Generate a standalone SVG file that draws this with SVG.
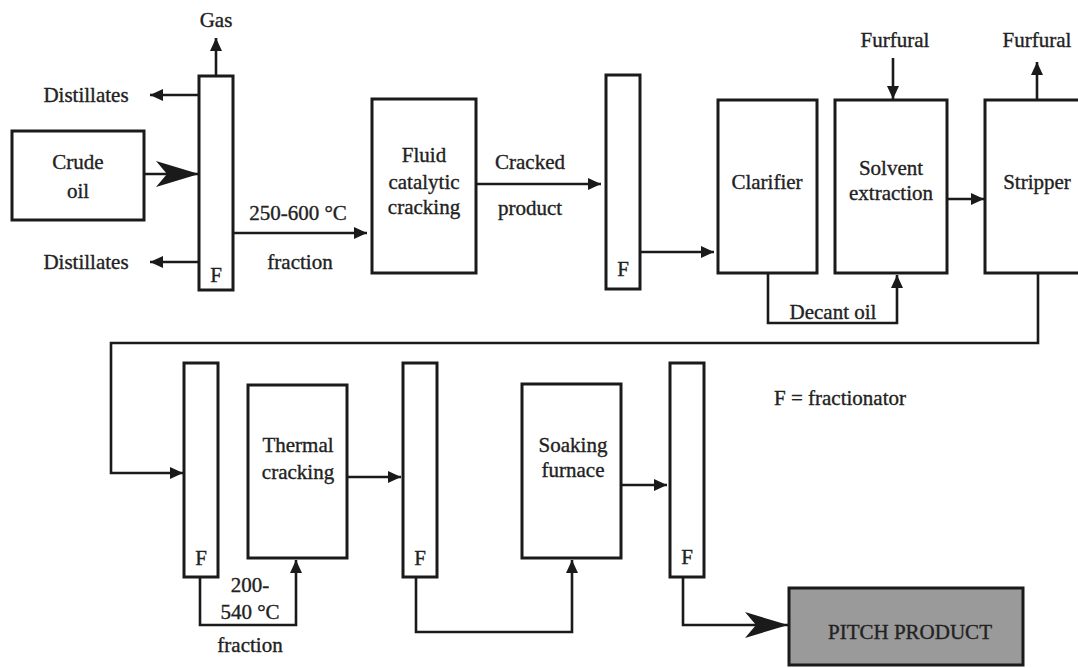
<svg xmlns="http://www.w3.org/2000/svg" width="1078" height="668" viewBox="0 0 1078 668">
<defs>
<style>
.box{fill:#fff;stroke:#1a1a1a;stroke-width:3}
.ln{fill:none;stroke:#1a1a1a;stroke-width:2.6}
.t{font-family:"Liberation Serif","Times New Roman",serif;font-size:21px;fill:#222;stroke:#222;stroke-width:0.35;text-anchor:middle}
</style>
<marker id="a" markerUnits="userSpaceOnUse" markerWidth="14" markerHeight="12" refX="13" refY="6" orient="auto">
<path d="M0,0 L13,6 L0,12 z" fill="#1a1a1a"/>
</marker>
<marker id="big" markerUnits="userSpaceOnUse" markerWidth="44" markerHeight="28" refX="43" refY="14" orient="auto">
<path d="M0,1 L43,14 L0,27 L11,14 z" fill="#1a1a1a"/>
</marker>
</defs>
<rect width="1078" height="668" fill="#fff"/>
<g id="connectors">
<path class="ln" d="M216,76 V38" marker-end="url(#a)"/>
<path class="ln" d="M199,95 H150" marker-end="url(#a)"/>
<path class="ln" d="M199,262 H150" marker-end="url(#a)"/>
<path class="ln" d="M144,174 H199" marker-end="url(#big)"/>
<path class="ln" d="M233,233 H367" marker-end="url(#a)"/>
<path class="ln" d="M476,184 H601" marker-end="url(#a)"/>
<path class="ln" d="M640,252 H714" marker-end="url(#a)"/>
<path class="ln" d="M893,58 V99" marker-end="url(#a)"/>
<path class="ln" d="M1037,100 V62" marker-end="url(#a)"/>
<path class="ln" d="M947,199 H984" marker-end="url(#a)"/>
<path class="ln" d="M768,273 V323 H897 V275" marker-end="url(#a)"/>
<path class="ln" d="M1038,273 V343 H111 V473 H183" marker-end="url(#a)"/>
<path class="ln" d="M347,477 H401" marker-end="url(#a)"/>
<path class="ln" d="M200,577 V625 H296 V560" marker-end="url(#a)"/>
<path class="ln" d="M416,577 V632 H572 V560" marker-end="url(#a)"/>
<path class="ln" d="M621,485 H667" marker-end="url(#a)"/>
<path class="ln" d="M683,577 V625 H788" marker-end="url(#big)"/>
</g>
<g id="crude-oil"><rect class="box" x="12" y="131" width="132" height="89"/><text class="t" x="78" y="169">Crude</text><text class="t" x="78" y="198">oil</text></g>
<g id="fractionator-1"><rect class="box" x="199" y="76" width="34" height="214"/><text class="t" x="216" y="282">F</text></g>
<g id="fcc"><rect class="box" x="372" y="99" width="104" height="174"/><text class="t" x="424" y="162">Fluid</text><text class="t" x="424" y="189">catalytic</text><text class="t" x="424" y="214">cracking</text></g>
<g id="fractionator-2"><rect class="box" x="606" y="75" width="34" height="214"/><text class="t" x="623" y="276">F</text></g>
<g id="clarifier"><rect class="box" x="718" y="100" width="99" height="173"/><text class="t" x="767" y="189">Clarifier</text></g>
<g id="solvent-extraction"><rect class="box" x="835" y="100" width="112" height="173"/><text class="t" x="891" y="175">Solvent</text><text class="t" x="891" y="200">extraction</text></g>
<g id="stripper"><rect class="box" x="985" y="100" width="110" height="173"/><text class="t" x="1037" y="189">Stripper</text></g>
<g id="fractionator-3"><rect class="box" x="184" y="363" width="34" height="214"/><text class="t" x="201" y="565">F</text></g>
<g id="thermal-cracking"><rect class="box" x="248" y="385" width="99" height="173"/><text class="t" x="298" y="452">Thermal</text><text class="t" x="298" y="479">cracking</text></g>
<g id="fractionator-4"><rect class="box" x="403" y="363" width="34" height="214"/><text class="t" x="420" y="565">F</text></g>
<g id="soaking-furnace"><rect class="box" x="522" y="384" width="99" height="174"/><text class="t" x="573" y="452">Soaking</text><text class="t" x="573" y="477">furnace</text></g>
<g id="fractionator-5"><rect class="box" x="670" y="363" width="34" height="214"/><text class="t" x="687" y="564">F</text></g>
<g id="pitch-product"><rect x="789" y="588" width="234" height="77" fill="#9a9a9a" stroke="#1a1a1a" stroke-width="3"/><text class="t" x="910" y="639">PITCH PRODUCT</text></g>
<g id="labels">
<text class="t" x="216" y="27">Gas</text>
<text class="t" x="86" y="102">Distillates</text>
<text class="t" x="86" y="269">Distillates</text>
<text class="t" x="298" y="220">250-600 °C</text>
<text class="t" x="300" y="269">fraction</text>
<text class="t" x="530" y="169">Cracked</text>
<text class="t" x="530" y="215">product</text>
<text class="t" x="895" y="47">Furfural</text>
<text class="t" x="1037" y="47">Furfural</text>
<text class="t" x="833" y="319">Decant oil</text>
<text class="t" x="250" y="592">200-</text>
<text class="t" x="250" y="619">540 °C</text>
<text class="t" x="250" y="652">fraction</text>
<text class="t" x="840" y="405">F = fractionator</text>
</g>
</svg>
